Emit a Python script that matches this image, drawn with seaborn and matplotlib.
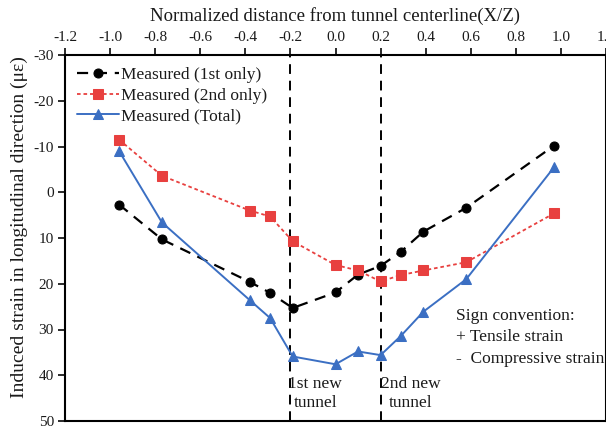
import numpy as np
import pandas as pd
import matplotlib
matplotlib.use("Agg")
import matplotlib.pyplot as plt
import seaborn as sns

# ---- data ----
x_pos = [-0.96, -0.77, -0.38, -0.29, -0.19, 0.0, 0.10, 0.20, 0.29, 0.39, 0.58, 0.97]
first_only = [2.7, 10.3, 19.6, 22.0, 25.3, 21.9, 18.0, 16.1, 13.0, 8.6, 3.4, -10.2]
second_only = [-11.5, -3.6, 4.0, 5.3, 10.7, 15.9, 17.1, 19.5, 18.1, 17.1, 15.3, 4.6]
total = [-9.0, 6.6, 23.6, 27.5, 35.9, 37.6, 34.8, 35.6, 31.4, 26.1, 19.0, -5.5]
series_names = ["Measured (1st only)", "Measured (2nd only)", "Measured (Total)"]
x_ticks = [-1.2, -1.0, -0.8, -0.6, -0.4, -0.2, 0.0, 0.2, 0.4, 0.6, 0.8, 1.0, 1.2]
y_ticks = [-30, -20, -10, 0, 10, 20, 30, 40, 50]
tunnel_lines = [-0.2, 0.2]

sns.set_theme(style="ticks")
plt.rcParams['font.family'] = ['Liberation Serif', 'DejaVu Serif']
plt.rcParams['axes.unicode_minus'] = False

df = pd.DataFrame({
    "x": x_pos * 3,
    "y": first_only + second_only + total,
    "series": [series_names[0]] * len(x_pos) + [series_names[1]] * len(x_pos) + [series_names[2]] * len(x_pos),
})

fig = plt.figure(figsize=(6.06, 4.28), dpi=100)
ax = fig.add_axes([65 / 606, 1 - 421 / 428, 1 - 65 / 606, (421 - 55) / 428])

styles = {
    series_names[0]: dict(color="black", ls=(0, (5, 3.5)), marker="o", ms=6.5, lw=1.6, mfc="black", mec="black"),
    series_names[1]: dict(color="#E8403F", ls=(0, (2, 1.6)), marker="s", ms=6.5, lw=1.3, mfc="#E8403F", mec="#E8403F"),
    series_names[2]: dict(color="#3B6FC3", ls="-", marker="^", ms=7.5, lw=1.4, mfc="#3B6FC3", mec="#3B6FC3"),
}
for name in series_names:
    sub = df[df["series"] == name]
    st = styles[name]
    sns.lineplot(data=sub, x="x", y="y", ax=ax, color=st["color"], linestyle=st["ls"],
                 marker=st["marker"], markersize=st["ms"], linewidth=st["lw"],
                 markerfacecolor=st["mfc"], markeredgecolor=st["mec"], label=name,
                 sort=False, estimator=None)

for xl in tunnel_lines:
    ax.axvline(xl, color="black", ls=(0, (5, 3.5)), lw=1.4, zorder=0)

ax.set_xlim(-1.2, 1.2)
ax.set_ylim(50, -30)
ax.set_xticks(x_ticks)
ax.set_xticklabels([f"{t:.1f}" for t in x_ticks])
ax.set_yticks(y_ticks)
ax.set_yticklabels([str(t) for t in y_ticks])
ax.xaxis.tick_top()
ax.xaxis.set_label_position("top")
ax.tick_params(axis="both", direction="out", length=5, width=1.3, labelsize=11, colors="#1a1a1a", pad=3)
for sp in ax.spines.values():
    sp.set_linewidth(1.5)
    sp.set_color("black")

ax.set_xlabel("Normalized distance from tunnel centerline(X/Z)", fontsize=13.5, labelpad=7, color="#1a1a1a")
ax.set_ylabel("Induced strain in longitudinal direction (με)", fontsize=14, labelpad=2, color="#1a1a1a")
ax.yaxis.set_label_coords(-0.068, 0.53)

leg = ax.legend(loc="upper left", frameon=False, fontsize=12.5, handlelength=2.4, handletextpad=0.12,
                borderaxespad=0.3, labelspacing=0.25, bbox_to_anchor=(0.0, 1.0))
for t in leg.get_texts():
    t.set_color("#1a1a1a")

ax.text(-0.09, 44.0, "1st new\ntunnel", ha="center", va="center", fontsize=12.5, color="#1a1a1a", linespacing=1.3)
ax.text(0.335, 44.0, "2nd new\ntunnel", ha="center", va="center", fontsize=12.5, color="#1a1a1a", linespacing=1.3)
ax.text(0.535, 31.7, "Sign convention:\n+ Tensile strain\n-  Compressive strain", ha="left", va="center",
        fontsize=12.5, color="#1a1a1a", linespacing=1.45)

fig.savefig("out.png", dpi=100)
